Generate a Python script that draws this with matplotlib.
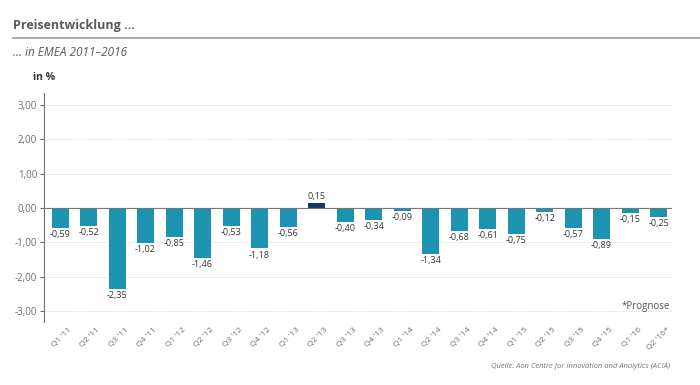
import numpy as np
import matplotlib
matplotlib.use('Agg')
import matplotlib.pyplot as plt
import matplotlib.transforms as mtransforms

plt.rcParams['font.family'] = ['Open Sans', 'DejaVu Sans']

# Daten
quartale = ["Q1 '11", "Q2 '11", "Q3 '11", "Q4 '11",
            "Q1 '12", "Q2 '12", "Q3 '12", "Q4 '12",
            "Q1 '13", "Q2 '13", "Q3 '13", "Q4 '13",
            "Q1 '14", "Q2 '14", "Q3 '14", "Q4 '14",
            "Q1 '15", "Q2 '15", "Q3 '15", "Q4 '15",
            "Q1 '16", "Q2 '16*"]
werte = [-0.59, -0.52, -2.35, -1.02,
         -0.85, -1.46, -0.53, -1.18,
         -0.56, 0.15, -0.40, -0.34,
         -0.09, -1.34, -0.68, -0.61,
         -0.75, -0.12, -0.57, -0.89,
         -0.15, -0.25]
yticks = [3, 2, 1, 0, -1, -2, -3]

teal = '#1b93b1'
navy = '#163a5f'
grau = '#6d6e71'

fig = plt.figure(figsize=(7, 3.85), dpi=100)
ax = fig.add_axes([0.063, 0.164, 0.897, 0.594])

x = np.arange(len(werte))
farben = [navy if w > 0 else teal for w in werte]
ax.bar(x, werte, width=0.6, color=farben, zorder=3)

for xi, w in zip(x, werte):
    txt = ('%.2f' % w).replace('.', ',')
    if w >= 0:
        ax.text(xi, w + 0.06, txt, ha='center', va='bottom', fontsize=6.5, color='#333333')
    else:
        ax.text(xi, w - 0.06, txt, ha='center', va='top', fontsize=6.5, color='#333333')

ax.set_xlim(-0.56, 21.47)
ax.set_ylim(-3.32, 3.35)
ax.set_yticks(yticks)
ax.set_yticklabels([('%.2f' % t).replace('.', ',') for t in yticks], fontsize=7, color=grau)
ax.set_xticks(x)
ax.set_xticklabels(quartale, rotation=45, ha='right', rotation_mode='anchor', fontsize=6, color=grau)
ax.tick_params(axis='x', length=0, pad=3)
ax.tick_params(axis='y', length=3, color=grau, pad=2)

# Beschriftungen etwas nach rechts schieben
versatz = mtransforms.ScaledTranslation(8/100, 0, fig.dpi_scale_trans)
for lab in ax.get_xticklabels():
    lab.set_transform(lab.get_transform() + versatz)

for t in yticks:
    if t != 0:
        ax.axhline(t, color='#d8d8d8', lw=0.6, ls=(0, (1, 1)), zorder=1)
ax.axhline(0, color='#777777', lw=0.8, zorder=4)

for s in ['top', 'right', 'bottom']:
    ax.spines[s].set_visible(False)
ax.spines['left'].set_color(grau)
ax.spines['left'].set_linewidth(0.8)

fig.text(13/700, 1 - 25/385, 'Preisentwicklung ...', fontsize=9, fontweight='bold', color='#58595b', va='center')
fig.add_artist(plt.Line2D([13/700, 1], [1 - 38/385, 1 - 38/385], color='#9a9a9a', lw=1.2))
fig.text(13/700, 1 - 52/385, '... in EMEA 2011–2016', fontsize=8.5, style='italic', color='#58595b', va='center')
fig.text(33/700, 1 - 78/385, 'in %', fontsize=7.5, fontweight='bold', color='#333333', va='center')
fig.text(670/700, 1 - 306/385, '*Prognose', fontsize=7, color='#555555', ha='right', va='center')
fig.text(670/700, 1 - 366/385, 'Quelle: Aon Centre for Innovation and Analytics (ACIA)', fontsize=5.5,
         style='italic', color='#777777', ha='right', va='center')

fig.savefig('out.png', dpi=100)
